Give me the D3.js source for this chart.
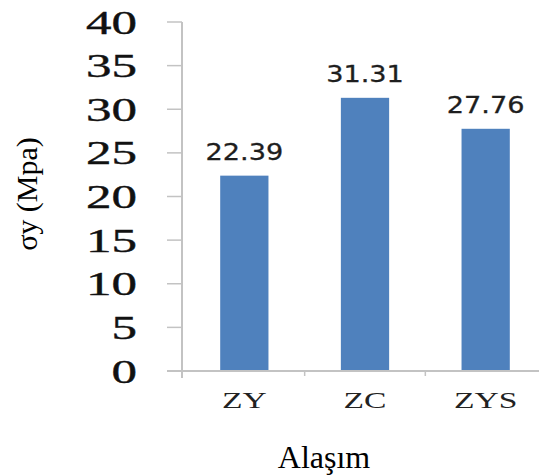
<!DOCTYPE html>
<html>
<head>
<meta charset="utf-8">
<script src="https://cdn.jsdelivr.net/npm/d3@7"></script>
<style>
  html, body { margin: 0; padding: 0; background: #fff; }
  svg { display: block; }
</style>
</head>
<body>
<svg id="chart" width="539" height="476"></svg>
<script>
// Yield strength per alloy
const categories = ["ZY", "ZC", "ZYS"];
const values = [22.39, 31.31, 27.76];
const yTicks = [0, 5, 10, 15, 20, 25, 30, 35, 40];

const svg = d3.select("#chart");
const axisColor = "#c3c3c3";
const barColor = "#4f81bd";

const axisX = 182;
const y = d3.scaleLinear().domain([0, 40]).range([371, 22]);
const x = d3.scaleBand().domain(categories).range([184, 546])
  .paddingInner(0.6).paddingOuter(0.3);

// Y axis line and ticks
svg.append("line")
  .attr("x1", axisX).attr("x2", axisX)
  .attr("y1", y(40)).attr("y2", y(0) + 7)
  .attr("stroke", axisColor).attr("stroke-width", 2);

svg.selectAll("line.ytick").data(yTicks).join("line")
  .attr("class", "ytick")
  .attr("x1", axisX - 15).attr("x2", axisX)
  .attr("y1", d => y(d)).attr("y2", d => y(d))
  .attr("stroke", axisColor).attr("stroke-width", 1.5);

// Y tick labels (wide serif)
svg.selectAll("text.ylab").data(yTicks).join("text")
  .attr("class", "ylab")
  .attr("transform", d => `translate(137,${y(d) + 11.5}) scale(1.5,1)`)
  .attr("text-anchor", "end")
  .attr("font-family", "'Liberation Serif', 'Times New Roman', serif")
  .attr("font-size", 34)
  .attr("fill", "#111")
  .attr("stroke", "#111").attr("stroke-width", 0.4)
  .text(d => d);

// Bars
svg.selectAll("rect.bar").data(values).join("rect")
  .attr("class", "bar")
  .attr("x", (d, i) => x(categories[i]))
  .attr("y", d => y(d))
  .attr("width", x.bandwidth())
  .attr("height", d => y(0) - y(d))
  .attr("fill", barColor);

// X axis line
svg.append("line")
  .attr("x1", axisX - 15).attr("x2", 539)
  .attr("y1", y(0)).attr("y2", y(0))
  .attr("stroke", axisColor).attr("stroke-width", 2);

// Category separator ticks
const step = x.step();
const seps = categories.slice(1).map(c => x(c) - step * x.paddingInner() / 2);
svg.selectAll("line.xtick").data(seps).join("line")
  .attr("class", "xtick")
  .attr("x1", d => d).attr("x2", d => d)
  .attr("y1", y(0)).attr("y2", y(0) + 5)
  .attr("stroke", axisColor).attr("stroke-width", 1.5);

// Value labels
svg.selectAll("text.val").data(values).join("text")
  .attr("class", "val")
  .attr("transform", (d, i) =>
    `translate(${x(categories[i]) + x.bandwidth() / 2},${y(d) - 16}) scale(1.18,1)`)
  .attr("text-anchor", "middle")
  .attr("font-family", "'DejaVu Sans', Verdana, sans-serif")
  .attr("font-size", 23)
  .attr("fill", "#1e1e1e")
  .attr("stroke", "#1e1e1e").attr("stroke-width", 0.3)
  .text(d => d.toFixed(2));

// Category labels
svg.selectAll("text.cat").data(categories).join("text")
  .attr("class", "cat")
  .attr("transform", d => `translate(${x(d) + x.bandwidth() / 2},408) scale(1.4,1)`)
  .attr("text-anchor", "middle")
  .attr("font-family", "'Liberation Serif', 'Times New Roman', serif")
  .attr("font-size", 24)
  .attr("fill", "#222")
  .text(d => d);

// Axis titles
svg.append("text")
  .attr("x", 324).attr("y", 468)
  .attr("text-anchor", "middle")
  .attr("font-family", "'Liberation Serif', 'Times New Roman', serif")
  .attr("font-size", 32)
  .attr("fill", "#000")
  .text("Alaşım");

svg.append("text")
  .attr("transform", "translate(37,194) rotate(-90)")
  .attr("text-anchor", "middle")
  .attr("font-family", "'Liberation Serif', 'Times New Roman', serif")
  .attr("font-size", 30)
  .attr("fill", "#000")
  .text("σy (Mpa)");
</script>
</body>
</html>
